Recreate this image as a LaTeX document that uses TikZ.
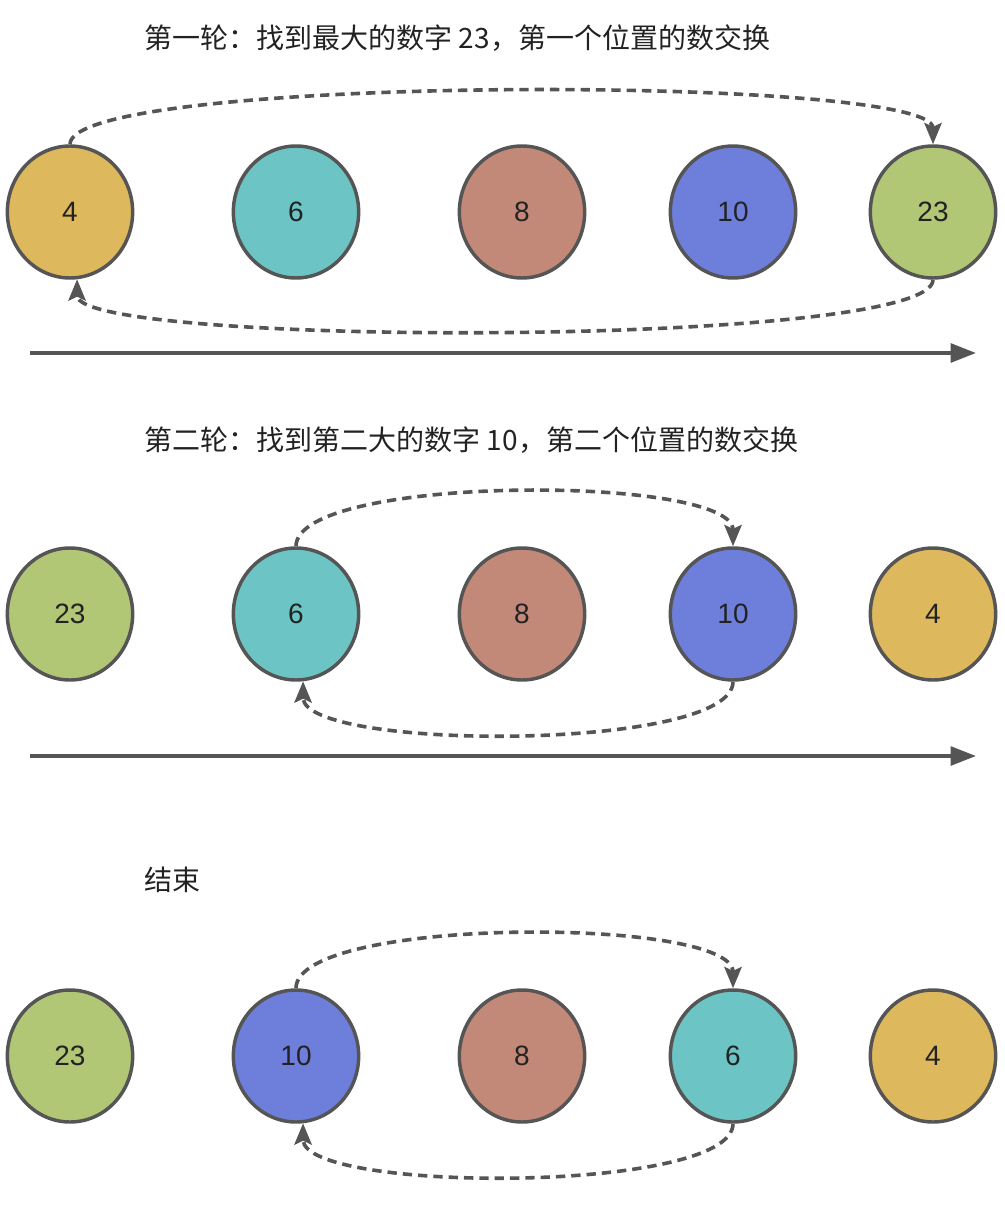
\documentclass[tikz,border=0pt]{standalone}
\usepackage{fontspec}
\setmainfont{Liberation Sans}
\newfontfamily\cjk{Noto Sans CJK SC}
\usetikzlibrary{arrows.meta,shapes.geometric}
\definecolor{ink}{HTML}{222222}
\definecolor{edge}{HTML}{555555}
\definecolor{amber}{HTML}{DEB85C}
\definecolor{aqua}{HTML}{6CC4C4}
\definecolor{clay}{HTML}{C38978}
\definecolor{iris}{HTML}{6E7FDB}
\definecolor{olive}{HTML}{B2C776}

\begin{document}
\begin{tikzpicture}[x=0.75pt,y=-0.75pt,
    ball/.style={ellipse,draw=edge,line width=2.6pt,minimum width=94pt,
      minimum height=99pt,inner sep=0pt,text=ink,font=\fontsize{21}{24}\selectfont},
    swap/.style={draw=edge,line width=2.7pt,dash pattern=on 7pt off 4.5pt,
      -{Stealth[length=16pt,width=13pt,inset=3pt]}},
    axis/.style={draw=edge,line width=2.8pt,-{Triangle[length=19pt,width=14pt]}},
    caption/.style={anchor=west,text=ink,font=\cjk\fontsize{21}{26}\selectfont}]
  \useasboundingbox (0,0) rectangle (1004,1205);

  % round one
  \node[caption] (t1) at (140,38) {第一轮：找到最大的数字 23，第一个位置的数交换};
  \node[ball,fill=amber] (a1) at (70,212) {4};
  \node[ball,fill=aqua]  (a2) at (296,212) {6};
  \node[ball,fill=clay]  (a3) at (522,212) {8};
  \node[ball,fill=iris]  (a4) at (733,212) {10};
  \node[ball,fill=olive] (a5) at (933,212) {23};
  \draw[swap] (a1.north) .. controls +(0,-70) and +(0,-70) .. (a5.north);
  \draw[swap] (a5.south) .. controls +(0,68) and +(0,68) .. (a1.-84);
  \coordinate (s1) at (30,353);
  \coordinate (e1) at (976,353);
  \draw[axis] (s1) -- (e1);

  % round two
  \node[caption] (t2) at (140,440) {第二轮：找到第二大的数字 10，第二个位置的数交换};
  \node[ball,fill=olive] (b1) at (70,614) {23};
  \node[ball,fill=aqua]  (b2) at (296,614) {6};
  \node[ball,fill=clay]  (b3) at (522,614) {8};
  \node[ball,fill=iris]  (b4) at (733,614) {10};
  \node[ball,fill=amber] (b5) at (933,614) {4};
  \draw[swap] (b2.north) .. controls +(0,-72) and +(0,-72) .. (b4.north);
  \draw[swap] (b4.south) .. controls +(0,70) and +(0,70) .. (b2.-84);
  \coordinate (s2) at (30,756);
  \coordinate (e2) at (976,756);
  \draw[axis] (s2) -- (e2);

  % done
  \node[caption] (t3) at (140,880) {结束};
  \node[ball,fill=olive] (c1) at (70,1056) {23};
  \node[ball,fill=iris]  (c2) at (296,1056) {10};
  \node[ball,fill=clay]  (c3) at (522,1056) {8};
  \node[ball,fill=aqua]  (c4) at (733,1056) {6};
  \node[ball,fill=amber] (c5) at (933,1056) {4};
  \draw[swap] (c2.north) .. controls +(0,-72) and +(0,-72) .. (c4.north);
  \draw[swap] (c4.south) .. controls +(0,70) and +(0,70) .. (c2.-84);
\end{tikzpicture}
\end{document}
